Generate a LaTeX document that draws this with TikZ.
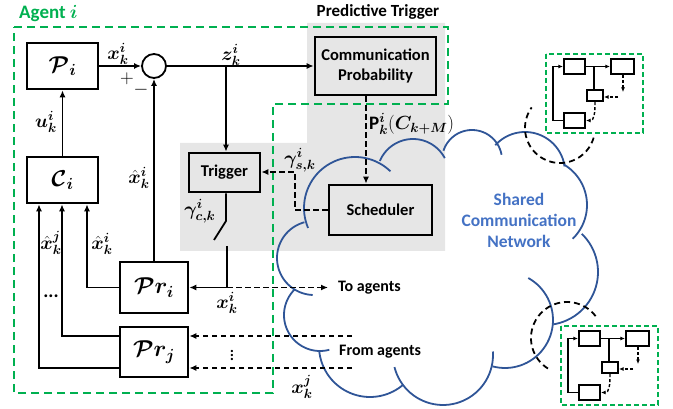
\RequirePackage{fix-cm}
\documentclass[tikz,border=0pt]{standalone}
\usepackage{fontspec}
\setmainfont{Carlito}
\usepackage{amsmath}
\usepackage{bm}
\usetikzlibrary{arrows.meta}
\definecolor{agreen}{RGB}{0,176,80}
\definecolor{pgray}{RGB}{230,230,230}
\definecolor{cblue}{RGB}{47,85,151}
\definecolor{tblue}{RGB}{68,114,196}
\newcommand{\mlab}{\fontsize{19}{22}\selectfont}
\newcommand{\myCloudArc}[5]{\draw[cloudline] plot[domain=#4:#5,samples=40,smooth] ({#1+#3*cos(\x)},{#2+#3*sin(\x)});}
\newcommand{\myMini}[3]{%
\begin{scope}[shift={(#1,#2)}]
\draw[mgreen] (0,0) rectangle (97,79);
\node[mbox, minimum width=21pt, minimum height=15pt] (#3A) at (28.5,12.5) {};
\node[mbox, minimum width=23pt, minimum height=15pt] (#3B) at (76.5,12.5) {};
\node[mbox, minimum width=16pt, minimum height=11pt] (#3C) at (49,41.5) {};
\node[mbox, minimum width=21pt, minimum height=15pt] (#3D) at (28.5,66.5) {};
\coordinate (#3m) at (48,0);
\coordinate (#3f) at (7,40);
\coordinate (#3b) at (77,38);
\coordinate (#3r) at (72,43);
\draw[marr] (#3A.east) -- (#3B.west);
\draw[mln] (#3A.east -| #3m) -- (#3m |- #3C.north);
\draw[mdarr] (#3B.south -| #3b) -- (#3b);
\draw[mdarr] (#3r) -- (#3C.east |- #3r);
\draw[mdarr] (#3C.south) .. controls +(0,12) and +(8,0) .. (#3D.east);
\draw[marr] (#3D.west) -| (#3f) |- (#3A.west);
\end{scope}}
\begin{document}
\begin{tikzpicture}[x=1pt,y=-1pt,
  box/.style={draw, line width=2.6pt, inner sep=0pt, align=center, font=\bfseries\fontsize{16.5}{20}\selectfont},
  mathbox/.style={draw, line width=2.6pt, inner sep=0pt, font=\fontsize{23}{26}\selectfont},
  ln/.style={line width=1.8pt},
  arr/.style={line width=1.8pt, -{Latex[length=7pt,width=6pt]}},
  darr/.style={arr, dash pattern=on 5.5pt off 3.5pt},
  lab/.style={inner sep=0pt, font=\mlab},
  txt/.style={inner sep=0pt, font=\bfseries\fontsize{16}{18}\selectfont},
  agentline/.style={draw=agreen, line width=2.2pt, dash pattern=on 8pt off 5pt},
  cloudline/.style={draw=cblue, line width=1.8pt},
  circdash/.style={line width=1.8pt, dash pattern=on 6pt off 4pt},
  mbox/.style={draw, line width=2.2pt, inner sep=0pt},
  mln/.style={line width=1.4pt},
  marr/.style={line width=1.4pt, -{Latex[length=4.5pt,width=4pt]}},
  mdarr/.style={marr, dash pattern=on 3pt off 2pt},
  mgreen/.style={draw=agreen, line width=1.5pt, dash pattern=on 5pt off 3pt}]
\path[use as bounding box] (0,0) rectangle (673,409);
% gray predictive trigger region
\fill[pgray] (307,23) -- (445,23) -- (445,251) -- (180,251) -- (180,143) -- (307,143) -- cycle;
% agent outline
\draw[agentline] (14,27) -- (448,27) -- (448,104) -- (273,104) -- (273,393) -- (14,393) -- cycle;
\node[anchor=west, text=agreen, inner sep=0pt, font=\bfseries\fontsize{19}{22}\selectfont] (agentlab) at (19,14) {Agent $\bm{i}$};
\node[inner sep=0pt, font=\bfseries\fontsize{17}{20}\selectfont] (ptlab) at (378,12) {Predictive Trigger};
% cloud
\myCloudArc{355}{208}{51}{157}{314}
\myCloudArc{413}{175}{36}{203}{332}
\myCloudArc{472}{160}{30}{198}{350}
\myCloudArc{525}{172}{40}{222}{352}
\myCloudArc{540}{205}{47}{-60}{46}
\myCloudArc{545}{272}{53}{-46}{81}
\myCloudArc{505}{320}{48}{-61}{105}
\myCloudArc{443}{355}{50}{-4}{166}
\myCloudArc{370}{346}{51}{50}{174}
\myCloudArc{320}{315}{36}{75}{225}
\myCloudArc{314}{258}{37}{92}{255}
\node[inner sep=0pt, text=tblue, align=center, font=\bfseries\fontsize{17.5}{21}\selectfont] (net) at (519,220) {Shared\\Communication\\Network};
% dashed circles
\draw[circdash] plot[domain=16:216,samples=50,smooth] ({560+35*cos(\x)},{128+35*sin(\x)});
\draw[circdash] plot[domain=122:326,samples=50,smooth] ({567+36*cos(\x)},{338+36*sin(\x)});
% mini diagrams
\myMini{546}{54}{t}
\myMini{561}{326}{b}
% main blocks
\node[mathbox, minimum width=71pt, minimum height=46pt] (Pi) at (62.5,66) {$\bm{\mathcal{P}_i}$};
\node[mathbox, minimum width=71pt, minimum height=46pt] (Ci) at (62.5,180) {$\bm{\mathcal{C}_i}$};
\node[draw, circle, line width=1.8pt, minimum size=24pt, inner sep=0pt] (sum) at (154,66) {};
\node[box, minimum width=121pt, minimum height=58pt] (CP) at (375.5,66) {Communication\\Probability};
\node[box, minimum width=71pt, minimum height=39pt] (TR) at (224.5,172.5) {Trigger};
\node[box, minimum width=103pt, minimum height=50pt] (SC) at (380.5,210) {Scheduler};
\node[mathbox, minimum width=68pt, minimum height=51pt] (Pri) at (154,287.5) {$\bm{\mathcal{P}r_i}$};
\node[mathbox, minimum width=68pt, minimum height=50pt] (Prj) at (154,352) {$\bm{\mathcal{P}r_j}$};
% coordinates
\coordinate (zb) at (226,66);
\coordinate (px) at (366,0);
\coordinate (gs) at (295,172);
\coordinate (sw1) at (226,221);
\coordinate (sw2) at (214,240);
\coordinate (sw3) at (227,246);
\coordinate (ta) at (328,287.5);
\coordinate (c1) at (39,0);
\coordinate (c2) at (62,0);
\coordinate (c3) at (87,0);
\coordinate (j1) at (0,336);
\coordinate (j2) at (0,368);
\coordinate (fa1) at (352,336);
\coordinate (fa2) at (352,368);
% connectors
\draw[arr] (Pi.east) -- (sum.west);
\draw[arr] (sum.east) -- (CP.west);
\draw[arr] (zb) -- (zb |- TR.north);
\draw[darr] (px |- CP.south) -- (px |- SC.north);
\draw[darr] (SC.west) -| (gs) -- (TR.east |- gs);
\draw[ln] (TR.south -| sw1) -- (sw1) -- (sw2);
\draw[arr] (sw3) |- (Pri.east);
\draw[darr] (sw3 |- Pri.east) -- (ta);
\draw[arr] (Pri.north) -- (sum.south);
\draw[arr] (Pri.west) -| (c3 |- Ci.south);
\draw[arr] (Prj.west |- j1) -| (c2 |- Ci.south);
\draw[arr] (Prj.west |- j2) -| (c1 |- Ci.south);
\draw[darr] (fa1) -- (Prj.east |- fa1);
\draw[darr] (fa2) -- (Prj.east |- fa2);
\draw[arr] (Ci.north) -- (Pi.south);
% labels
\node[lab] (lxk) at (118,54) {$\bm{x_k^i}$};
\node[lab] (lplus) at (127,79) {$+$};
\node[lab] (lminus) at (141,90) {$-$};
\node[lab] (lz) at (231,55) {$\bm{z_k^i}$};
\node[lab] (lu) at (46,122) {$\bm{u_k^i}$};
\node[lab] (lxh1) at (139,178) {$\bm{\hat{x}_k^i}$};
\node[lab] (lxh2) at (102,244) {$\bm{\hat{x}_k^i}$};
\node[lab] (lxh3) at (51,243) {$\bm{\hat{x}_k^j}$};
\node[lab] (ldots) at (51,296) {\textbf{...}};
\node[lab] (lvdots) at (232,352) {$\vdots$};
\node[lab] (lxs) at (227,303) {$\bm{x_k^i}$};
\node[lab] (lxj) at (302,387) {$\bm{x_k^j}$};
\node[lab] (lgc) at (200,211) {$\bm{\gamma^i_{c,k}}$};
\node[lab] (lgs) at (300,160) {$\bm{\gamma^i_{s,k}}$};
\node[lab, anchor=west] (lp) at (369,124) {$\mathbf{P}^{\bm{i}}_{\bm{k}}(\bm{C_{k+M}})$};
\node[txt, anchor=west] (toag) at (338,288) {To agents};
\node[txt, anchor=west] (frag) at (339,352) {From agents};
\end{tikzpicture}
\end{document}
